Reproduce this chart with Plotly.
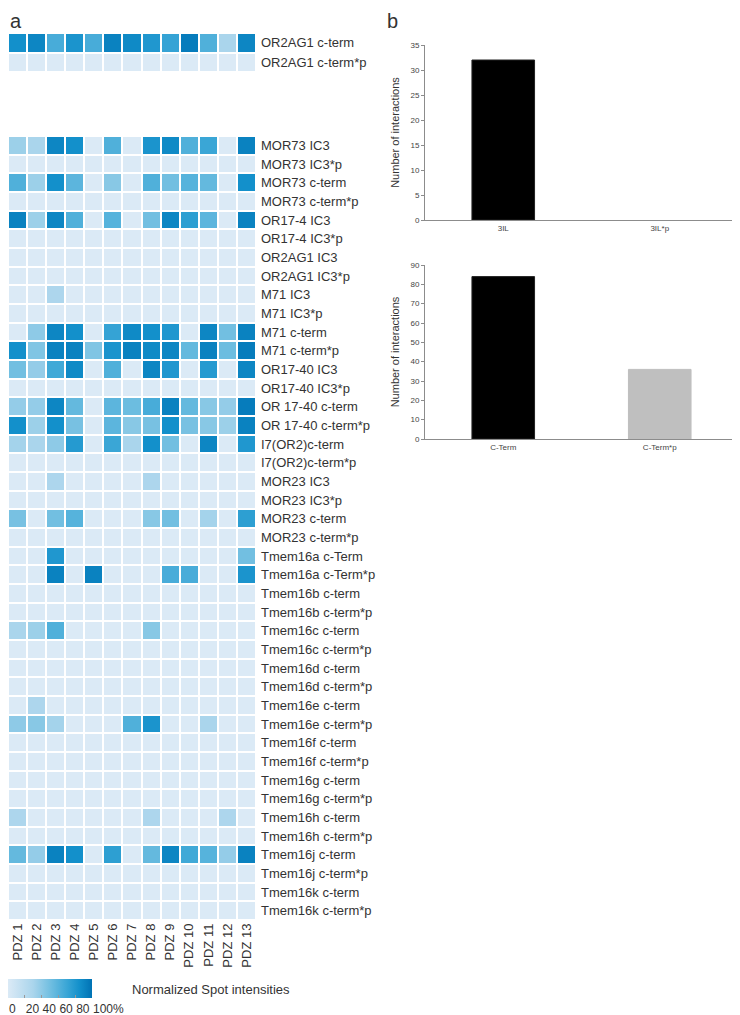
import plotly.graph_objects as go

# Browser body has an 8px default margin; the figure is sized to fit the window.
OFF = 8
W, H = 740 - OFF, 1015 - OFF

pdz = [f"PDZ {i}" for i in range(1, 14)]

rows_top = ["OR2AG1 c-term", "OR2AG1 c-term*p"]
vals_top = [
    [85, 90, 65, 82, 65, 92, 88, 80, 72, 95, 62, 30, 90],
    [0] * 13,
]

rows_main = [
    "MOR73 IC3", "MOR73 IC3*p", "MOR73 c-term", "MOR73 c-term*p",
    "OR17-4 IC3", "OR17-4 IC3*p", "OR2AG1 IC3", "OR2AG1 IC3*p",
    "M71 IC3", "M71 IC3*p", "M71 c-term", "M71 c-term*p",
    "OR17-40 IC3", "OR17-40 IC3*p", "OR 17-40 c-term", "OR 17-40 c-term*p",
    "I7(OR2)c-term", "I7(OR2)c-term*p", "MOR23 IC3", "MOR23 IC3*p",
    "MOR23 c-term", "MOR23 c-term*p", "Tmem16a c-Term", "Tmem16a c-Term*p",
    "Tmem16b c-term", "Tmem16b c-term*p", "Tmem16c c-term", "Tmem16c c-term*p",
    "Tmem16d c-term", "Tmem16d c-term*p", "Tmem16e c-term", "Tmem16e c-term*p",
    "Tmem16f c-term", "Tmem16f c-term*p", "Tmem16g c-term", "Tmem16g c-term*p",
    "Tmem16h c-term", "Tmem16h c-term*p", "Tmem16j c-term", "Tmem16j c-term*p",
    "Tmem16k c-term", "Tmem16k c-term*p",
]
Z0 = [0] * 13
vals_main = [
    [35, 30, 90, 85, 0, 62, 0, 82, 88, 62, 70, 0, 92],   # MOR73 IC3
    Z0,
    [62, 35, 85, 58, 0, 42, 0, 62, 50, 60, 55, 0, 85],   # MOR73 c-term
    Z0,
    [92, 35, 90, 62, 0, 60, 0, 50, 90, 75, 58, 0, 92],   # OR17-4 IC3
    Z0,
    Z0,
    Z0,
    [0, 0, 28, 0, 0, 0, 0, 0, 0, 0, 0, 0, 0],            # M71 IC3
    Z0,
    [0, 40, 90, 85, 0, 72, 88, 85, 80, 0, 90, 50, 92],   # M71 c-term
    [85, 45, 92, 92, 45, 82, 92, 88, 90, 55, 92, 52, 95],  # M71 c-term*p
    [50, 38, 68, 88, 0, 62, 0, 90, 80, 0, 78, 0, 90],    # OR17-40 IC3
    Z0,
    [38, 38, 90, 55, 0, 58, 52, 65, 92, 55, 42, 38, 95],  # OR 17-40 c-term
    [85, 35, 85, 48, 0, 58, 42, 48, 85, 48, 42, 35, 92],  # OR 17-40 c-term*p
    [32, 30, 40, 78, 0, 70, 30, 85, 50, 0, 90, 0, 80],   # I7(OR2)c-term
    Z0,
    [0, 0, 28, 0, 0, 0, 0, 28, 0, 0, 0, 0, 0],           # MOR23 IC3
    Z0,
    [48, 0, 50, 60, 0, 0, 0, 42, 50, 0, 32, 0, 75],      # MOR23 c-term
    Z0,
    [0, 0, 80, 0, 0, 0, 0, 0, 0, 0, 0, 0, 50],           # Tmem16a c-Term
    [0, 0, 92, 0, 92, 0, 0, 0, 65, 65, 0, 0, 82],        # Tmem16a c-Term*p
    Z0,
    Z0,
    [30, 35, 62, 0, 0, 0, 0, 42, 0, 0, 0, 0, 0],         # Tmem16c c-term
    Z0,
    Z0,
    Z0,
    [0, 28, 0, 0, 0, 0, 0, 0, 0, 0, 0, 0, 0],            # Tmem16e c-term
    [40, 42, 32, 0, 0, 0, 62, 82, 0, 0, 30, 0, 0],       # Tmem16e c-term*p
    Z0,
    Z0,
    Z0,
    Z0,
    [28, 0, 0, 0, 0, 0, 0, 28, 0, 0, 0, 28, 0],          # Tmem16h c-term
    Z0,
    [55, 38, 92, 85, 0, 75, 0, 55, 90, 68, 60, 38, 92],  # Tmem16j c-term
    Z0,
    Z0,
    Z0,
]

bar1_cats = ["3IL", "3IL*p"]
bar1_vals = [32, 0]
bar2_cats = ["C-Term", "C-Term*p"]
bar2_vals = [84, 36]

cb_tickvals = [0, 20, 40, 60, 80, 100]
cb_ticktext = ["0", "20", "40", "60", "80", "100%"]

cscale = [
    [0.0, "#dbeaf6"],
    [0.3, "#aad5ec"],
    [0.5, "#72bfe1"],
    [0.7, "#3aa6d6"],
    [0.85, "#1390cb"],
    [1.0, "#0072b4"],
]

FONT = "Liberation Sans, Arial, sans-serif"
TXT = "#333333"


def py(p):  # window pixel from top -> paper fraction
    return 1 - (p - OFF) / H


def px(p):
    return max(0.0, (p - OFF) / W)


fig = go.Figure()

fig.add_trace(go.Heatmap(
    z=vals_top, x=pdz, y=rows_top, zmin=0, zmax=100,
    colorscale=cscale, showscale=False, xgap=2, ygap=2,
    xaxis="x2", yaxis="y2",
))
fig.add_trace(go.Heatmap(
    z=vals_main, x=pdz, y=rows_main, zmin=0, zmax=100,
    colorscale=cscale, xgap=2, ygap=2,
    xaxis="x", yaxis="y",
    colorbar=dict(
        orientation="h", x=px(8), xanchor="left", y=py(979), yanchor="top",
        len=84, lenmode="pixels", thickness=19, outlinewidth=0,
        xpad=0, ypad=0,
        tickvals=cb_tickvals, ticktext=cb_ticktext, tickangle=0,
        ticks="inside", ticklen=3, tickcolor="#999",
        tickfont=dict(family=FONT, size=12, color=TXT),
        ticklabelposition="outside right", ticklabeloverflow="allow",
    ),
))

fig.add_trace(go.Bar(
    x=bar1_cats, y=bar1_vals, width=0.4,
    marker=dict(color=["#000000", "#bfbfbf"],
                line=dict(color=["#222", "rgba(0,0,0,0)"], width=1)),
    xaxis="x3", yaxis="y3", showlegend=False,
))
fig.add_trace(go.Bar(
    x=bar2_cats, y=bar2_vals, width=0.4,
    marker=dict(color=["#000000", "#bfbfbf"],
                line=dict(color=["#222", "#bfbfbf"], width=1)),
    xaxis="x4", yaxis="y4", showlegend=False,
))

hx = [px(8), px(256)]
lab_font = dict(family=FONT, size=13, color=TXT)
bar_tick = dict(family=FONT, size=8, color="#444")

fig.update_layout(
    width=W, height=H,
    margin=dict(l=0, r=0, t=0, b=0, autoexpand=False),
    paper_bgcolor="white", plot_bgcolor="white",
    font=dict(family=FONT, color=TXT),
    showlegend=False,
    xaxis=dict(domain=hx, anchor="y", side="bottom", tickangle=-90,
               tickfont=lab_font, showgrid=False, zeroline=False, ticks="",
               showline=False, automargin=False),
    yaxis=dict(domain=[py(920), py(136)], anchor="x", side="right",
               autorange="reversed", tickfont=lab_font, showgrid=False,
               zeroline=False, ticks="", ticklabelstandoff=4, automargin=False),
    xaxis2=dict(domain=hx, anchor="y2", showticklabels=False, showgrid=False,
                zeroline=False, ticks="", automargin=False),
    yaxis2=dict(domain=[py(72), py(33)], anchor="x2", side="right",
                autorange="reversed", tickfont=lab_font, showgrid=False,
                zeroline=False, ticks="", ticklabelstandoff=4, automargin=False),
    xaxis3=dict(domain=[px(425), px(738)], anchor="y3", showline=True,
                linecolor="#8c8c8c", linewidth=1, tickfont=bar_tick,
                showgrid=False, ticks="", automargin=False),
    yaxis3=dict(domain=[py(220), py(45)], anchor="x3", range=[0, 35],
                dtick=5, showline=True, linecolor="#8c8c8c", linewidth=1,
                ticks="outside", ticklen=3, tickcolor="#8c8c8c",
                tickfont=bar_tick, showgrid=False, zeroline=False,
                automargin=False,
                title=dict(text="Number of interactions",
                           font=dict(family=FONT, size=11, color="#333"),
                           standoff=8)),
    xaxis4=dict(domain=[px(425), px(738)], anchor="y4", showline=True,
                linecolor="#8c8c8c", linewidth=1, tickfont=bar_tick,
                showgrid=False, ticks="", automargin=False),
    yaxis4=dict(domain=[py(439), py(265)], anchor="x4", range=[0, 90],
                dtick=10, showline=True, linecolor="#8c8c8c", linewidth=1,
                ticks="outside", ticklen=3, tickcolor="#8c8c8c",
                tickfont=bar_tick, showgrid=False, zeroline=False,
                automargin=False,
                title=dict(text="Number of interactions",
                           font=dict(family=FONT, size=11, color="#333"),
                           standoff=8)),
    annotations=[
        dict(text="a", x=px(8), y=1, xref="paper", yref="paper",
             xanchor="left", yanchor="top", showarrow=False,
             font=dict(family=FONT, size=20, color=TXT)),
        dict(text="b", x=px(385), y=1, xref="paper", yref="paper",
             xanchor="left", yanchor="top", showarrow=False,
             font=dict(family=FONT, size=20, color=TXT)),
        dict(text="Normalized Spot intensities", x=px(130), y=py(989),
             xref="paper", yref="paper", xanchor="left", yanchor="middle",
             showarrow=False, font=dict(family=FONT, size=13, color=TXT)),
    ],
)

fig.write_html("out.html")
